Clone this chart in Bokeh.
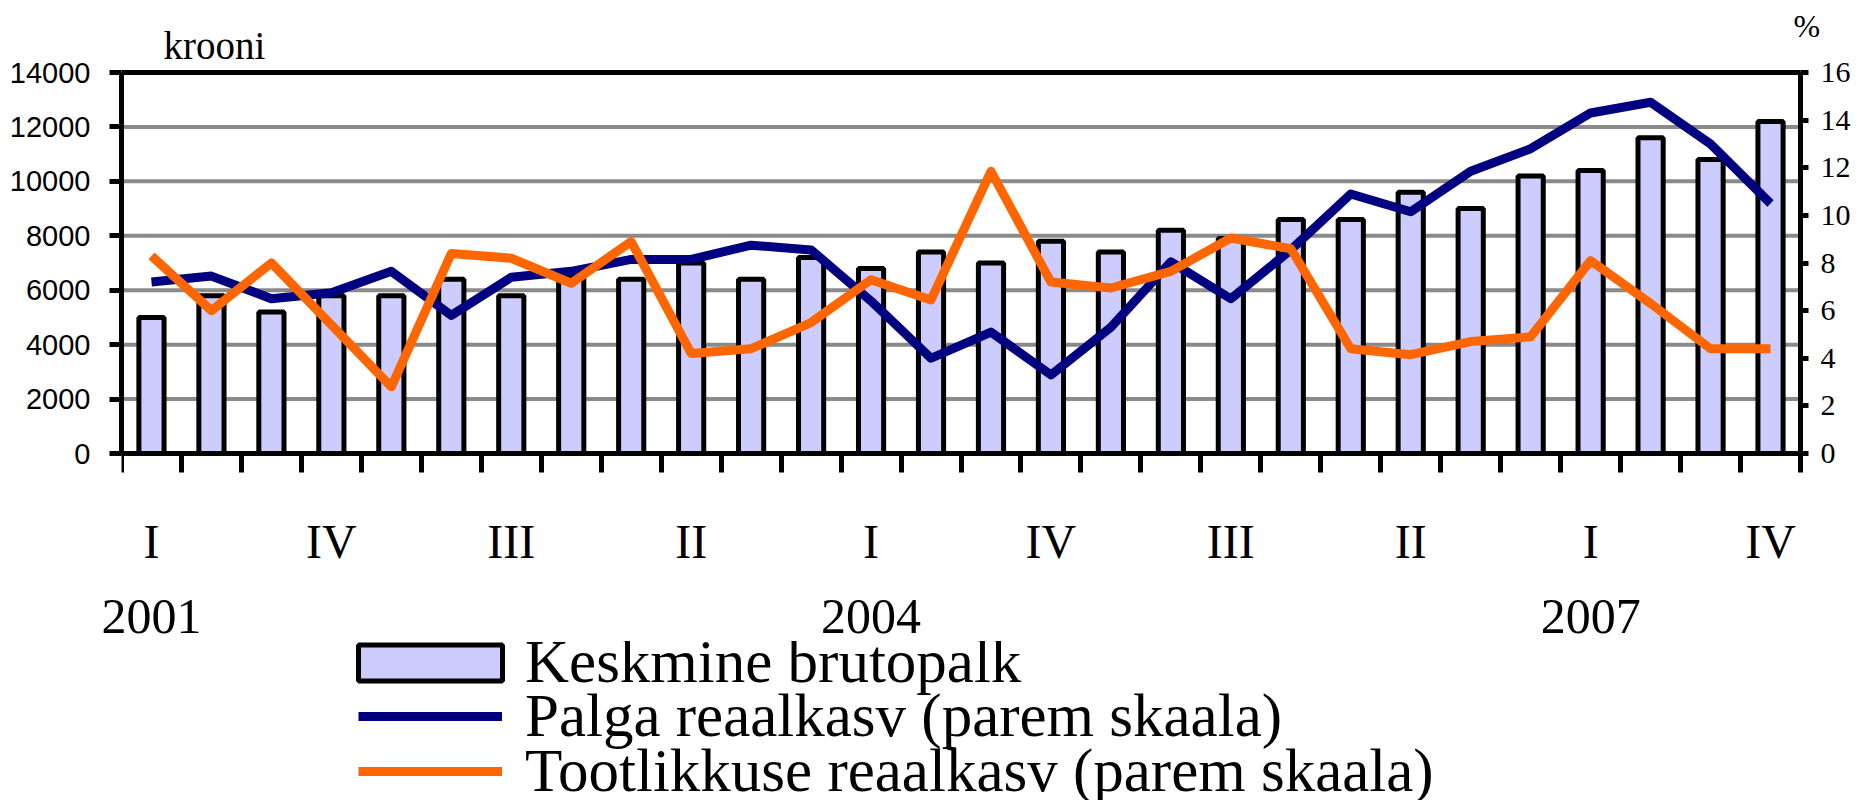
from bokeh.plotting import figure
from bokeh.layouts import column
from bokeh.models import (Range1d, LinearAxis, FixedTicker, Legend, LegendItem,
                          Label, ColumnDataSource, NumeralTickFormatter)
from bokeh.embed import file_html
from bokeh.resources import INLINE

# ---- data -------------------------------------------------------------
quarters = ["I", "II", "III", "IV"] * 7
years = ["2001", "2002", "2003", "2004", "2005", "2006", "2007"]

# Keskmine brutopalk (krooni)
salary = [5000, 5800, 5200, 5800, 5800, 6400, 5800, 6500, 6400, 7000, 6400, 7200,
          6800, 7400, 7000, 7800, 7400, 8200, 7900, 8600, 8600, 9600, 9000, 10200,
          10400, 11600, 10800, 12200]
# Palga reaalkasv (%)
wage_growth = [7.2, 7.45, 6.5, 6.75, 7.65, 5.8, 7.4, 7.65, 8.15, 8.15, 8.75, 8.55,
               6.4, 4.0, 5.1, 3.3, 5.3, 8.05, 6.5, 8.55, 10.9, 10.15, 11.85, 12.8,
               14.3, 14.75, 13.0, 10.5]
# Tootlikkuse reaalkasv (%)
prod_growth = [8.3, 6.0, 8.0, 5.4, 2.8, 8.4, 8.2, 7.15, 8.9, 4.2, 4.4, 5.5,
               7.3, 6.45, 11.85, 7.2, 6.95, 7.65, 9.05, 8.6, 4.4, 4.15, 4.7, 4.9,
               8.1, 6.3, 4.4, 4.4]

left_ticks = [0, 2000, 4000, 6000, 8000, 10000, 12000, 14000]
right_ticks = [0, 2, 4, 6, 8, 10, 12, 14, 16]

labels = dict(bars="Keskmine brutopalk",
              wage="Palga reaalkasv (parem skaala)",
              prod="Tootlikkuse reaalkasv (parem skaala)")

# ---- styling / layout -------------------------------------------------
BAR_FILL = "#CCCCFF"
WAGE_COL = "#000080"
PROD_COL = "#FF6600"
SERIF = "Liberation Serif"
SANS = "Liberation Sans"
W = 1852
FRAME_L, FRAME_R = 121, 1800      # plot area (pixels) of the bar chart
FRAME_T, FRAME_B = 72, 453
FRAME_EXT = 478                   # frame reaches a bit below the axis line
BOTTOM = 163                      # room for the category labels
LG_H = 159                        # legend strip height

n = len(salary)
lmax = max(left_ticks)
rmax = max(right_ticks)
xs = [i + 0.5 for i in range(n)]
src = ColumnDataSource(dict(x=xs, salary=salary, wage=wage_growth, prod=prod_growth))

# the frame spans from the page top to just below the category axis and to the
# right page edge, so the unit captions and the right tick labels fit inside it
x_end = n * (W - FRAME_L) / (FRAME_R - FRAME_L)
span = FRAME_B - FRAME_T
top_k = FRAME_B / span
bot_k = (FRAME_EXT - FRAME_B) / span

p = figure(width=W, height=FRAME_EXT + BOTTOM, output_backend="svg", toolbar_location=None,
           x_range=Range1d(0, x_end), y_range=Range1d(-lmax * bot_k, lmax * top_k),
           min_border_left=FRAME_L, min_border_right=0, min_border_top=0,
           min_border_bottom=BOTTOM)
p.extra_y_ranges = {"pct": Range1d(-rmax * bot_k, rmax * top_k)}
p.background_fill_color = "white"
p.border_fill_color = "white"
p.outline_line_color = None
p.xgrid.visible = False
p.ygrid.visible = False

# horizontal grid lines and top border
grid_y = left_ticks[1:-1]
p.segment(x0=[0] * len(grid_y), x1=[n] * len(grid_y), y0=grid_y, y1=grid_y,
          line_color="#8a8a8a", line_width=4)
p.segment(x0=[0], x1=[n], y0=[lmax], y1=[lmax], line_color="black", line_width=5)

ya = p.yaxis[0]
ya.ticker = FixedTicker(ticks=left_ticks)
ya.bounds = (0, lmax)
ya.formatter = NumeralTickFormatter(format="0")
ya.axis_line_width = 5
ya.major_tick_line_width = 5
ya.major_tick_out = 12
ya.major_tick_in = 0
ya.minor_tick_line_color = None
ya.major_label_text_font = SANS
ya.major_label_text_font_size = "29px"
ya.major_label_text_color = "black"
ya.major_label_standoff = 19

ra = LinearAxis(y_range_name="pct", ticker=FixedTicker(ticks=right_ticks),
                bounds=(0, rmax), fixed_location=n)
ra.axis_line_width = 5
ra.major_tick_line_width = 5
ra.major_tick_out = 8
ra.major_tick_in = 0
ra.minor_tick_line_color = None
ra.major_label_text_font = SERIF
ra.major_label_text_font_size = "30px"
ra.major_label_text_color = "black"
ra.major_label_standoff = 12
p.add_layout(ra, "right")

xa = p.xaxis[0]
xa.ticker = FixedTicker(ticks=list(range(n + 1)))
xa.bounds = (0, n)
xa.fixed_location = 0
xa.axis_line_width = 5
xa.major_tick_line_width = 5
xa.major_tick_out = 19
xa.major_tick_in = 0
xa.minor_tick_line_color = None
xa.major_label_text_font_size = "0px"
xa.major_label_standoff = 0

q_idx = list(range(0, n, 3))
qa = LinearAxis(ticker=FixedTicker(ticks=[xs[i] for i in q_idx]),
                major_label_overrides={xs[i]: quarters[i] for i in q_idx})
qa.axis_line_color = None
qa.major_tick_line_color = None
qa.minor_tick_line_color = None
qa.major_label_text_font = SERIF
qa.major_label_text_font_size = "48px"
qa.major_label_text_color = "black"
qa.major_label_standoff = 30
p.add_layout(qa, "below")

y_idx = [0, 3, 6]
ya2 = LinearAxis(ticker=FixedTicker(ticks=[xs[4 * i] for i in y_idx]),
                 major_label_overrides={xs[4 * i]: years[i] for i in y_idx})
ya2.axis_line_color = None
ya2.major_tick_line_color = None
ya2.minor_tick_line_color = None
ya2.major_label_text_font = SERIF
ya2.major_label_text_font_size = "50px"
ya2.major_label_text_color = "black"
ya2.major_label_standoff = 23
p.add_layout(ya2, "below")

bar_style = dict(fill_color=BAR_FILL, line_color="black", line_width=5)
wage_style = dict(line_color=WAGE_COL, line_width=9, line_join="round")
prod_style = dict(line_color=PROD_COL, line_width=9, line_join="round")

p.vbar(x="x", top="salary", bottom=0, width=0.42, source=src, **bar_style)
p.line(x="x", y="wage", source=src, y_range_name="pct", **wage_style)
p.line(x="x", y="prod", source=src, y_range_name="pct", **prod_style)

# unit captions (pixel placement converted to data units)
px_x = lambda px: (px - FRAME_L) * n / (FRAME_R - FRAME_L)
px_y = lambda py: lmax * (FRAME_B - py) / span
p.add_layout(Label(x=px_x(163), y=px_y(45), text="krooni", text_font=SERIF,
                   text_font_size="39px", text_baseline="middle", text_color="black"))
p.add_layout(Label(x=px_x(1793), y=px_y(25), text="%", text_font=SERIF,
                   text_font_size="32px", text_baseline="middle", text_color="black"))

# ---- legend strip (hidden copies of the series supply legend glyphs) ----
lg = figure(width=W, height=LG_H, output_backend="svg", toolbar_location=None,
            x_range=Range1d(0, n), y_range=Range1d(0, lmax))
lg.xaxis.visible = False
lg.yaxis.visible = False
lg.xgrid.visible = False
lg.ygrid.visible = False
lg.outline_line_color = None
lg.min_border_left = FRAME_L
lg.min_border_right = 0
lg.min_border_top = 0
lg.min_border_bottom = 0
lg.border_fill_color = "white"
lg.background_fill_color = "white"

r1 = lg.vbar(x="x", top="salary", bottom=0, width=0.42, source=src, visible=False, **bar_style)
r2 = lg.line(x="x", y="wage", source=src, visible=False, **wage_style)
r3 = lg.line(x="x", y="prod", source=src, visible=False, **prod_style)

FONT_PX = 61
ROW_H = 67
row_centres = [664, 718, 773]      # page pixels of the three legend rows
strip_top = FRAME_EXT + BOTTOM
# (glyph box left, glyph width, glyph height, label standoff) per row;
# the bar swatch is drawn inset by 10 %, so its box is enlarged
geoms = [(340, 180, 45, 5), (358, 144, 36, 23), (358, 144, 36, 23)]
for rend, key, cy, (gx, gw, gh, gs) in zip([r1, r2, r3], ["bars", "wage", "prod"],
                                           row_centres, geoms):
    leg = Legend(items=[LegendItem(label=labels[key], renderers=[rend])],
                 location=(gx - FRAME_L, LG_H - (cy - strip_top) - ROW_H // 2))
    leg.label_text_font = SERIF
    leg.label_text_font_size = f"{FONT_PX}px"
    leg.label_text_color = "black"
    leg.glyph_width = gw
    leg.glyph_height = gh
    leg.label_standoff = gs
    leg.padding = 0
    leg.margin = 0
    leg.border_line_color = None
    leg.background_fill_alpha = 0
    lg.add_layout(leg)

layout = column(p, lg, spacing=0)
open("out.html", "w").write(file_html(layout, INLINE))
